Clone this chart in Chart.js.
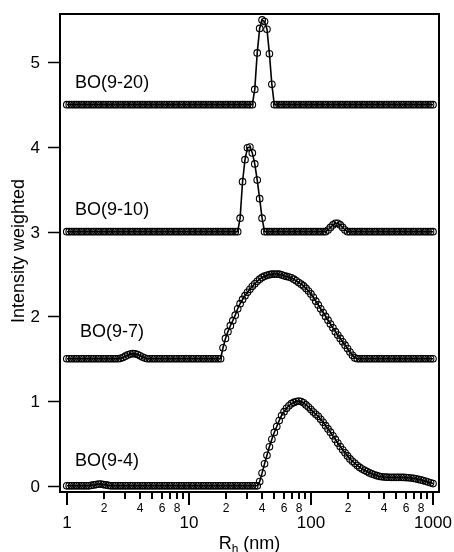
<!DOCTYPE html>
<html><head><meta charset="utf-8">
<script src="https://cdn.jsdelivr.net/npm/chart.js@4.4.0/dist/chart.umd.min.js"></script>
<style>html,body{margin:0;padding:0;background:#fff}#wrap{width:454px;height:552px}</style>
</head><body><div id="wrap"><canvas id="c" width="454" height="552"></canvas></div>
<script>
// Shared Rh grid (nm)
const xGrid = [1,1.047,1.096,1.148,1.202,1.259,1.318,1.380,1.445,1.514,
1.585,1.660,1.738,1.820,1.905,1.995,2.089,2.188,2.291,2.399,
2.512,2.630,2.754,2.884,3.020,3.162,3.311,3.467,3.631,3.802,
3.981,4.169,4.365,4.571,4.786,5.012,5.248,5.495,5.754,6.026,
6.310,6.607,6.918,7.244,7.586,7.943,8.318,8.710,9.120,9.550,
10,10.47,10.96,11.48,12.02,12.59,13.18,13.80,14.45,15.14,
15.85,16.60,17.38,18.20,19.05,19.95,20.89,21.88,22.91,23.99,
25.12,26.30,27.54,28.84,30.20,31.62,33.11,34.67,36.31,38.02,
39.81,41.69,43.65,45.71,47.86,50.12,52.48,54.95,57.54,60.26,
63.10,66.07,69.18,72.44,75.86,79.43,83.18,87.10,91.20,95.50,
100,104.7,109.6,114.8,120.2,125.9,131.8,138.0,144.5,151.4,
158.5,166.0,173.8,182.0,190.5,199.5,208.9,218.8,229.1,239.9,
251.2,263.0,275.4,288.4,302.0,316.2,331.1,346.7,363.1,380.2,
398.1,416.9,436.5,457.1,478.6,501.2,524.8,549.5,575.4,602.6,
631.0,660.7,691.8,724.4,758.6,794.3,831.8,871.0,912.0,955.0,
1000];

const seriesNames = ["BO(9-4)","BO(9-7)","BO(9-10)","BO(9-20)"];
const offsets = [0, 1.5, 3, 4.5];

const bo94 = [0,0,0,0,0,0,0,0,0,0,
0.005,0.01,0.015,0.02,0.02,0.015,0.01,0.005,0,0,
0,0,0,0,0,0,0,0,0,0,
0,0,0,0,0,0,0,0,0,0,
0,0,0,0,0,0,0,0,0,0,
0,0,0,0,0,0,0,0,0,0,
0,0,0,0,0,0,0,0,0,0,
0,0,0,0,0,0,0,0,0,0.05,
0.15,0.26,0.36,0.46,0.55,0.63,0.70,0.77,0.83,0.875,
0.915,0.945,0.97,0.985,0.995,1.0,0.995,0.98,0.955,0.93,
0.90,0.87,0.845,0.82,0.786,0.75,0.71,0.672,0.633,0.59,
0.548,0.505,0.464,0.426,0.39,0.353,0.318,0.29,0.265,0.24,
0.217,0.198,0.183,0.168,0.152,0.14,0.13,0.12,0.112,0.107,
0.104,0.102,0.101,0.10,0.10,0.10,0.10,0.10,0.099,0.097,
0.095,0.092,0.088,0.083,0.077,0.07,0.062,0.054,0.045,0.036,
0.027];

const bo97 = [0,0,0,0,0,0,0,0,0,0,
0,0,0,0,0,0,0,0,0,0,
0,0,0.005,0.015,0.03,0.045,0.055,0.06,0.058,0.05,
0.035,0.02,0.008,0,0,0,0,0,0,0,
0,0,0,0,0,0,0,0,0,0,
0,0,0,0,0,0,0,0,0,0,
0,0,0,0,0.13,0.24,0.32,0.39,0.45,0.515,
0.59,0.65,0.70,0.745,0.785,0.82,0.855,0.885,0.915,0.94,
0.96,0.975,0.985,0.993,0.998,1.0,1.0,0.998,0.99,0.98,
0.972,0.965,0.955,0.94,0.92,0.90,0.88,0.86,0.83,0.80,
0.765,0.725,0.68,0.635,0.59,0.545,0.50,0.455,0.41,0.365,
0.32,0.28,0.24,0.20,0.16,0.12,0.08,0.04,0.01,0,
0,0,0,0,0,0,0,0,0,0,
0,0,0,0,0,0,0,0,0,0,
0,0,0,0,0,0,0,0,0,0,
0];

const bo910 = [0,0,0,0,0,0,0,0,0,0,
0,0,0,0,0,0,0,0,0,0,
0,0,0,0,0,0,0,0,0,0,
0,0,0,0,0,0,0,0,0,0,
0,0,0,0,0,0,0,0,0,0,
0,0,0,0,0,0,0,0,0,0,
0,0,0,0,0,0,0,0,0,0,
0,0.16,0.59,0.85,0.99,1.0,0.93,0.80,0.61,0.39,
0.16,0,0,0,0,0,0,0,0,0,
0,0,0,0,0,0,0,0,0,0,
0,0,0,0,0,0,0,0.02,0.05,0.08,
0.10,0.10,0.08,0.05,0.02,0,0,0,0,0,
0,0,0,0,0,0,0,0,0,0,
0,0,0,0,0,0,0,0,0,0,
0,0,0,0,0,0,0,0,0,0,
0];

const bo920 = [0,0,0,0,0,0,0,0,0,0,
0,0,0,0,0,0,0,0,0,0,
0,0,0,0,0,0,0,0,0,0,
0,0,0,0,0,0,0,0,0,0,
0,0,0,0,0,0,0,0,0,0,
0,0,0,0,0,0,0,0,0,0,
0,0,0,0,0,0,0,0,0,0,
0,0,0,0,0,0,0,0.18,0.61,0.90,
1.0,0.98,0.89,0.60,0.24,0,0,0,0,0,
0,0,0,0,0,0,0,0,0,0,
0,0,0,0,0,0,0,0,0,0,
0,0,0,0,0,0,0,0,0,0,
0,0,0,0,0,0,0,0,0,0,
0,0,0,0,0,0,0,0,0,0,
0,0,0,0,0,0,0,0,0,0,
0];

const yTicks = [0,1,2,3,4,5];
const xDecades = [1,10,100];
const xMajorLabels = ["1","10","100","1000"];
const xMinorLabelMantissas = [2,4,6,8];

// text annotation anchors (data coordinates) for series names
const labelAnchors = [[1.17,0.295],[1.285,1.81],[1.17,3.26],[1.17,4.76]];

const FONT = '"Liberation Sans", Arial, Helvetica, sans-serif';
const allSeries = [bo94, bo97, bo910, bo920];

const datasets = allSeries.map((s, k) => ({
  label: seriesNames[k],
  data: s.map((v, i) => ({x: xGrid[i], y: v + offsets[k]})),
  borderColor: '#000',
  borderWidth: 1.6,
  pointRadius: 3.3,
  pointBorderWidth: 1.1,
  pointBorderColor: '#000',
  pointBackgroundColor: 'rgba(0,0,0,0)',
  tension: 0,
  fill: false
}));

const decor = {
  id: 'decor',
  afterDatasetsDraw(chart) {
    const {ctx, chartArea: a, scales: {x, y}} = chart;
    ctx.save();
    ctx.strokeStyle = '#000';
    ctx.fillStyle = '#000';
    ctx.lineWidth = 2;
    ctx.strokeRect(a.left, a.top, a.right - a.left, a.bottom - a.top);

    // y ticks
    ctx.lineWidth = 1.5;
    ctx.font = '17px ' + FONT;
    ctx.textAlign = 'right';
    ctx.textBaseline = 'middle';
    yTicks.forEach(v => {
      const py = Math.round(y.getPixelForValue(v)) + 0.5;
      ctx.beginPath(); ctx.moveTo(a.left - 12, py); ctx.lineTo(a.left, py); ctx.stroke();
      ctx.fillText(String(v), a.left - 20, py + 1);
    });

    // x ticks
    ctx.lineWidth = 2;
    ctx.textAlign = 'center';
    const drawTick = (v, len) => {
      const px = Math.round(x.getPixelForValue(v));
      ctx.beginPath(); ctx.moveTo(px, a.bottom + 1); ctx.lineTo(px, a.bottom + 1 + len); ctx.stroke();
      return px;
    };
    xDecades.forEach((d, di) => {
      for (let m = 1; m <= 9; m++) {
        const v = m * d;
        if (m === 1) {
          const px = drawTick(v, 12);
          ctx.font = '17px ' + FONT;
          ctx.fillText(xMajorLabels[di], px, a.bottom + 31);
        } else {
          const px = drawTick(v, 6);
          if (xMinorLabelMantissas.includes(m)) {
            ctx.font = '12px ' + FONT;
            ctx.fillText(String(m), px, a.bottom + 17);
          }
        }
      }
    });
    const pxEnd = drawTick(1000, 12);
    ctx.font = '17px ' + FONT;
    ctx.fillText(xMajorLabels[3], pxEnd, a.bottom + 31);

    // x title R_h (nm)
    ctx.textAlign = 'left';
    ctx.textBaseline = 'alphabetic';
    ctx.font = '18px ' + FONT;
    const wR = ctx.measureText('R').width;
    const wRest = ctx.measureText(' (nm)').width;
    ctx.font = '12px ' + FONT;
    const wh = ctx.measureText('h').width;
    const total = wR + wh + wRest;
    let tx = (a.left + a.right) / 2 - total / 2;
    const base = 549;
    ctx.font = '18px ' + FONT;
    ctx.fillText('R', tx, base); tx += wR;
    ctx.font = '12px ' + FONT;
    ctx.fillText('h', tx, base + 4); tx += wh;
    ctx.font = '18px ' + FONT;
    ctx.fillText(' (nm)', tx, base);

    // y title
    ctx.save();
    ctx.translate(19, (a.top + a.bottom) / 2 - 2);
    ctx.rotate(-Math.PI / 2);
    ctx.textAlign = 'center';
    ctx.textBaseline = 'middle';
    ctx.font = '18px ' + FONT;
    ctx.fillText('Intensity weighted', 0, 0);
    ctx.restore();

    // series labels
    ctx.textAlign = 'left';
    ctx.textBaseline = 'middle';
    ctx.font = '18px ' + FONT;
    labelAnchors.forEach((p, k) => {
      ctx.fillText(seriesNames[k], x.getPixelForValue(p[0]), y.getPixelForValue(p[1]));
    });
    ctx.restore();
  }
};

new Chart(document.getElementById('c'), {
  type: 'line',
  data: {datasets},
  options: {
    responsive: false,
    animation: false,
    devicePixelRatio: 1,
    layout: {padding: {top: 14, right: 15, left: 0, bottom: 0}},
    plugins: {legend: {display: false}, tooltip: {enabled: false}},
    scales: {
      x: {
        type: 'logarithmic', min: 0.88, max: 1120,
        ticks: {display: false}, grid: {display: false}, border: {display: false},
        afterFit: s => { s.height = 60; }
      },
      y: {
        type: 'linear', min: -0.073, max: 5.57,
        ticks: {display: false}, grid: {display: false}, border: {display: false},
        afterFit: s => { s.width = 60; }
      }
    }
  },
  plugins: [decor]
});
</script>
</body></html>
